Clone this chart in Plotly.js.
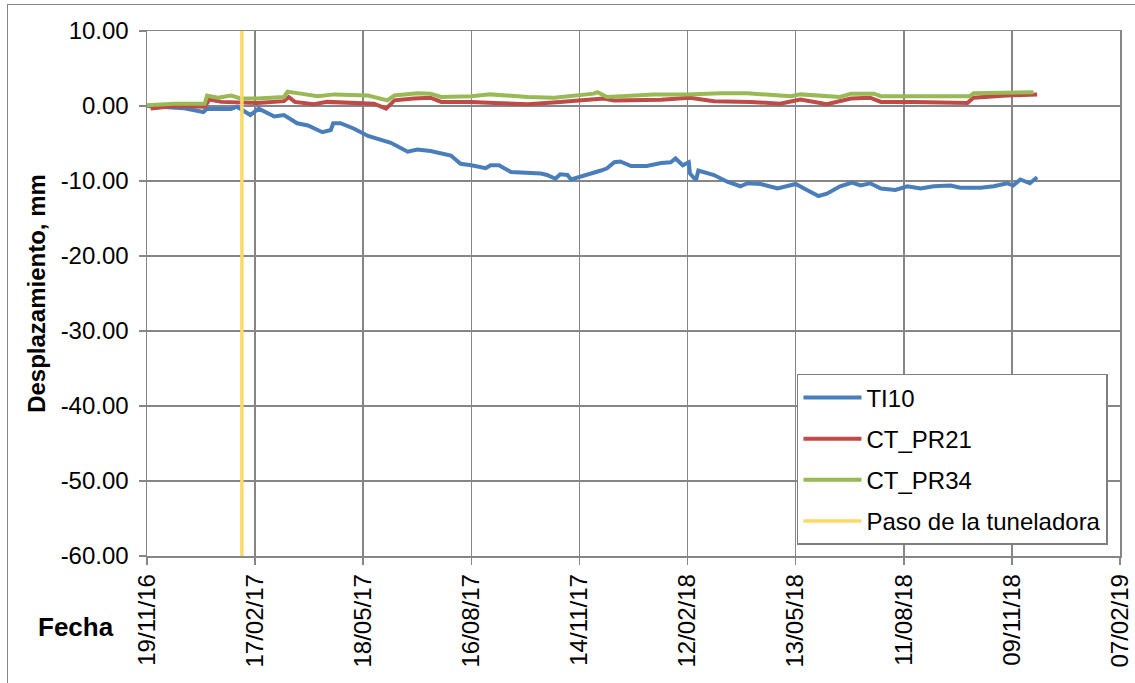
<!DOCTYPE html>
<html>
<head>
<meta charset="utf-8">
<script src="https://cdn.plot.ly/plotly-3.0.1.min.js"></script>
<style>
  html, body { margin:0; padding:0; background:#ffffff; overflow:hidden; }
  #frame { position:absolute; left:7px; top:4px; width:1300px; height:900px; border:1.5px solid #868686; }
  #chart { position:absolute; left:0; top:0; width:1135px; height:683px; }
</style>
</head>
<body>
<div id="frame"></div>
<div id="chart"></div>
<script>
// ---- Data ----
const ti10Dates = ["2016-11-19","2016-12-20","2017-01-05","2017-01-08","2017-01-28","2017-02-02","2017-02-13","2017-02-20","2017-03-05","2017-03-13","2017-03-24","2017-04-02","2017-04-14","2017-04-21","2017-04-23","2017-04-29","2017-05-10","2017-05-22","2017-06-10","2017-06-24","2017-07-02","2017-07-13","2017-07-30","2017-08-07","2017-08-16","2017-08-28","2017-09-01","2017-09-08","2017-09-18","2017-10-13","2017-10-18","2017-10-25","2017-10-29","2017-11-04","2017-11-07","2017-11-21","2017-12-02","2017-12-07","2017-12-13","2017-12-18","2017-12-27","2018-01-09","2018-01-21","2018-01-29","2018-02-02","2018-02-08","2018-02-13","2018-02-14","2018-02-19","2018-02-21","2018-03-06","2018-03-17","2018-03-28","2018-04-03","2018-04-14","2018-04-28","2018-05-09","2018-05-13","2018-05-20","2018-06-01","2018-06-08","2018-06-19","2018-06-29","2018-07-06","2018-07-14","2018-07-23","2018-08-04","2018-08-14","2018-08-25","2018-09-05","2018-09-19","2018-09-27","2018-10-14","2018-10-25","2018-11-05","2018-11-10","2018-11-16","2018-11-24","2018-11-30"];
const ti10Values = [0.0,-0.3,-0.8,-0.35,-0.4,-0.1,-1.2,-0.35,-1.4,-1.2,-2.3,-2.6,-3.5,-3.2,-2.3,-2.3,-3.0,-4.0,-4.9,-6.1,-5.8,-6.0,-6.6,-7.7,-7.9,-8.3,-7.9,-7.9,-8.8,-9.0,-9.2,-9.7,-9.1,-9.2,-9.8,-9.2,-8.6,-8.3,-7.5,-7.4,-8.0,-8.0,-7.6,-7.5,-7.0,-7.9,-7.5,-9.0,-9.9,-8.6,-9.2,-10.1,-10.7,-10.3,-10.4,-11.0,-10.6,-10.4,-11.0,-12.0,-11.7,-10.7,-10.2,-10.6,-10.3,-11.0,-11.2,-10.7,-11.0,-10.7,-10.6,-10.9,-10.9,-10.7,-10.3,-10.6,-9.8,-10.3,-9.5];

const pr21Dates = ["2016-11-22","2016-12-12","2017-01-06","2017-01-10","2017-01-20","2017-02-05","2017-02-19","2017-03-13","2017-03-17","2017-03-22","2017-04-07","2017-04-18","2017-05-05","2017-05-27","2017-06-06","2017-06-13","2017-06-29","2017-07-13","2017-07-22","2017-08-16","2017-09-04","2017-10-02","2017-10-29","2017-11-26","2017-12-04","2017-12-13","2018-01-21","2018-02-14","2018-03-06","2018-04-06","2018-04-25","2018-04-30","2018-05-17","2018-06-08","2018-06-28","2018-07-14","2018-07-23","2018-08-19","2018-10-03","2018-10-08","2018-11-05","2018-11-30"];
const pr21Values = [-0.35,0.0,-0.1,0.85,0.55,0.4,0.4,0.65,1.2,0.55,0.25,0.55,0.4,0.3,-0.35,0.75,1.0,1.1,0.55,0.55,0.4,0.25,0.55,0.85,1.0,0.75,0.85,1.1,0.65,0.55,0.3,0.3,0.85,0.25,1.0,1.1,0.55,0.55,0.4,1.1,1.4,1.55];

const pr34Dates = ["2016-11-19","2016-12-12","2017-01-06","2017-01-08","2017-01-17","2017-01-28","2017-02-05","2017-02-19","2017-03-13","2017-03-16","2017-03-27","2017-04-10","2017-04-24","2017-05-22","2017-06-07","2017-06-13","2017-07-02","2017-07-13","2017-07-22","2017-08-16","2017-09-01","2017-10-02","2017-10-24","2017-11-26","2017-11-29","2017-12-07","2018-01-15","2018-02-12","2018-03-11","2018-04-03","2018-04-30","2018-05-09","2018-05-17","2018-06-19","2018-06-28","2018-07-17","2018-07-23","2018-09-05","2018-09-08","2018-10-05","2018-10-08","2018-11-27"];
const pr34Values = [0.1,0.3,0.3,1.4,1.1,1.4,1.0,1.0,1.2,1.9,1.65,1.3,1.55,1.4,0.75,1.4,1.7,1.65,1.2,1.3,1.55,1.2,1.1,1.65,1.85,1.2,1.55,1.55,1.7,1.7,1.4,1.3,1.55,1.2,1.65,1.65,1.3,1.3,1.2,1.3,1.7,1.85];

const tbmDates = ["2017-02-06","2017-02-06"];
const tbmValues = [-60, 10];

const seriesNames = ["TI10","CT_PR21","CT_PR34","Paso de la tuneladora"];
const xRange = ["2016-11-19","2019-02-07"];
const yRange = [-60, 10];
const yTickVals = [-60, -50, -40, -30, -20, -10, 0, 10];
const yTickText = yTickVals.map(v => v.toFixed(2));
const xTitle = "Fecha";
const yTitle = "Desplazamiento, mm";

// ---- Chart ----
const FONT = "Liberation Sans, Arial, sans-serif";
const GRID = "#868686";

const traces = [
  {x: ti10Dates, y: ti10Values, name: seriesNames[0], type: "scatter", mode: "lines",
   line: {color: "#4A7EBB", width: 4}, legendgroup: "a"},
  {x: pr21Dates, y: pr21Values, name: seriesNames[1], type: "scatter", mode: "lines",
   line: {color: "#BE4B48", width: 4}, legendgroup: "b"},
  {x: pr34Dates, y: pr34Values, name: seriesNames[2], type: "scatter", mode: "lines",
   line: {color: "#98B954", width: 4}, legendgroup: "c"},
  {x: tbmDates, y: tbmValues, name: seriesNames[3], type: "scatter", mode: "lines",
   line: {color: "#FFD966", width: 3.5}, legendgroup: "d"}
];

const layout = {
  width: 1135, height: 683,
  margin: {l: 147, r: 15, t: 31, b: 127, pad: 0},
  paper_bgcolor: "rgba(0,0,0,0)",
  plot_bgcolor: "#ffffff",
  font: {family: FONT, size: 24, color: "#000000"},
  showlegend: true,
  legend: {
    x: 0.668, y: 0.347, xanchor: "left", yanchor: "top",
    bgcolor: "#ffffff", bordercolor: "#7f7f7f", borderwidth: 1.5,
    font: {family: FONT, size: 24, color: "#000000"},
    itemwidth: 58, tracegroupgap: 7, traceorder: "grouped"
  },
  xaxis: {
    type: "date", range: xRange, autorange: false,
    tick0: xRange[0], dtick: 90 * 86400000, tickformat: "%d/%m/%y",
    tickangle: -90, ticks: "outside", ticklen: 7, tickcolor: GRID, tickwidth: 1.5,
    showgrid: true, gridcolor: GRID, gridwidth: 1.5,
    showline: true, linecolor: GRID, linewidth: 1.5, mirror: true,
    zeroline: false, tickfont: {family: FONT, size: 24, color: "#000"}
  },
  yaxis: {
    range: yRange, autorange: false, tickmode: "array", tickvals: yTickVals, ticktext: yTickText,
    ticks: "outside", ticklen: 7, tickcolor: GRID, tickwidth: 1.5, ticklabelstandoff: 5,
    showgrid: true, gridcolor: GRID, gridwidth: 1.5,
    showline: true, linecolor: GRID, linewidth: 1.5, mirror: true,
    zeroline: false, tickfont: {family: FONT, size: 24, color: "#000"},
    title: {text: "<b>" + yTitle + "</b>", font: {family: FONT, size: 24, color: "#000"}, standoff: 8}
  },
  annotations: [
    {text: "<b>" + xTitle + "</b>", xref: "paper", yref: "paper",
     x: -0.032, y: -0.135, xanchor: "right", yanchor: "middle", showarrow: false,
     font: {family: FONT, size: 26, color: "#000"}}
  ]
};

Plotly.newPlot("chart", traces, layout, {displayModeBar: false, staticPlot: true});
</script>
</body>
</html>
